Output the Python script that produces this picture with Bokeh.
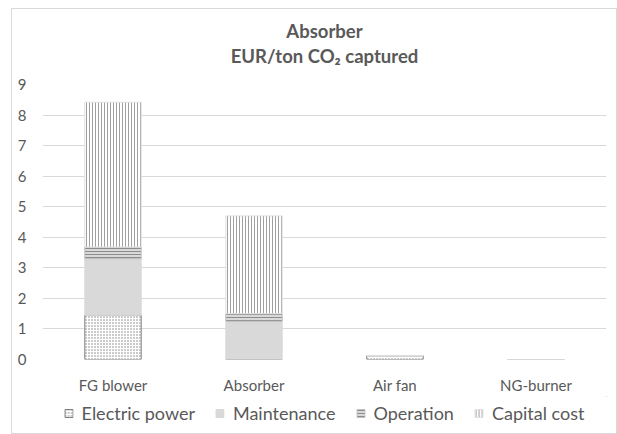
from bokeh.plotting import figure
from bokeh.models import FixedTicker, Legend, LegendItem, ColumnDataSource, FactorRange, Range1d, Label, Spacer
from bokeh.layouts import row, column
from bokeh.embed import file_html
from bokeh.resources import INLINE

categories = ["FG blower", "Absorber", "Air fan", "NG-burner"]
electric_power = [1.45, 0.0, 0.12, 0.0]
maintenance = [1.85, 1.25, 0.0, 0.0]
operation = [0.38, 0.25, 0.0, 0.0]
capital_cost = [4.74, 3.20, 0.0, 0.0]
y_ticks = [0, 1, 2, 3, 4, 5, 6, 7, 8, 9]
series_names = ["Electric power", "Maintenance", "Operation", "Capital cost"]
title_lines = ["Absorber", "EUR/ton CO₂ captured"]

FONT = "Lato"
TXT = "#595959"
W = 604

source = ColumnDataSource(dict(
    cat=categories,
    electric=electric_power,
    maintenance=maintenance,
    operation=operation,
    capital=capital_cost,
))


def strip(height):
    f = figure(width=W, height=height, x_range=Range1d(0, 1), y_range=Range1d(0, height),
               output_backend="svg", toolbar_location=None,
               x_axis_location=None, y_axis_location=None,
               min_border_left=0, min_border_right=0, min_border_top=0, min_border_bottom=0)
    f.outline_line_color = None
    f.xgrid.visible = False
    f.ygrid.visible = False
    f.background_fill_color = "white"
    f.border_fill_color = "white"
    return f


# title strip
tf = strip(60)
for txt, yy in zip(title_lines, [39, 14]):
    tf.add_layout(Label(x=0.5, y=yy, text=txt, text_align="center", text_baseline="middle",
                        text_font=FONT, text_font_size="18.5px", text_font_style="bold",
                        text_color=TXT))

# main chart
p = figure(
    width=W, height=327,
    x_range=FactorRange(*categories, range_padding=0),
    y_range=Range1d(0, 9),
    output_backend="svg", toolbar_location=None, title=None,
    min_border_left=30, min_border_right=10, min_border_top=15, min_border_bottom=34,
)
p.outline_line_color = None
p.background_fill_color = "white"
p.border_fill_color = "white"

styles = [
    dict(fill_color="white", line_color="#7f7f7f", line_width=1,
         hatch_pattern="dot", hatch_color="#7f7f7f", hatch_scale=3, hatch_weight=1),
    dict(fill_color="#d9d9d9", line_color="#d9d9d9", line_width=1),
    dict(fill_color="#d9d9d9", line_color="#bfbfbf", line_width=1,
         hatch_pattern="horizontal_line", hatch_color="#8c8c8c", hatch_scale=3, hatch_weight=1),
    dict(fill_color="white", line_color="#e0e0e0", line_width=1,
         hatch_pattern="vertical_line", hatch_color="#a0a0a0", hatch_scale=3, hatch_weight=1),
]
renderers = p.vbar_stack(["electric", "maintenance", "operation", "capital"], x="cat",
                         width=0.4, source=source,
                         fill_color=[s["fill_color"] for s in styles],
                         line_color=[s["line_color"] for s in styles])
for r, s in zip(renderers, styles):
    for k, v in s.items():
        setattr(r.glyph, k, v)

p.yaxis.ticker = FixedTicker(ticks=y_ticks)
for ax in (p.xaxis[0], p.yaxis[0]):
    ax.axis_line_color = None
    ax.major_tick_line_color = None
    ax.minor_tick_line_color = None
    ax.major_label_text_font = FONT
    ax.major_label_text_font_size = "15px"
    ax.major_label_text_color = TXT
p.yaxis.major_label_standoff = 10
p.xaxis.major_label_standoff = 10
p.xgrid.grid_line_color = None
p.ygrid.grid_line_color = "#d9d9d9"
p.ygrid.grid_line_width = 1

# legend strip (swatch renderers sit outside the visible range)
lf = strip(37)
legend_renderers = [lf.vbar(x=[5], top=[1000], bottom=[900], width=0.4, **s) for s in styles]
legend = Legend(
    items=[LegendItem(label=n, renderers=[r]) for n, r in zip(series_names, legend_renderers)],
    orientation="horizontal", location="top_center",
    label_text_font=FONT, label_text_font_size="18px", label_text_color=TXT,
    glyph_width=10, glyph_height=10, label_standoff=8, spacing=20,
    padding=0, margin=6, border_line_alpha=0, background_fill_alpha=0,
)
lf.add_layout(legend, "center")

inner = column(tf, p, lf, spacing=0, styles={"border": "1px solid #d9d9d9"})
layout = row(Spacer(width=11, height=10), column(Spacer(width=10, height=8), inner))
open("out.html", "w").write(file_html(layout, INLINE))
